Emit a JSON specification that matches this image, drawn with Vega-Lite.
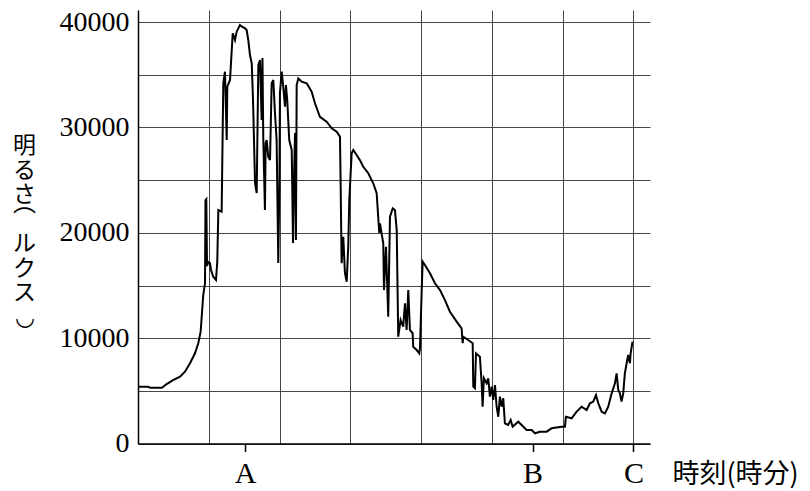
{
  "$schema": "https://vega.github.io/schema/vega-lite/v6.json",
  "autosize": "none",
  "padding": {"left": 138, "top": 10, "right": 160, "bottom": 47},
  "width": 512,
  "height": 433.6,
  "background": "white",
  "config": {"view": {"stroke": null}},
  "data": {"values": [
    {"t":0,"lux":5400},{"t":8.5,"lux":5400},{"t":10.2,"lux":5300},{"t":20.3,"lux":5300},{"t":24.3,"lux":5650},{"t":29.7,"lux":6030},{"t":35.6,"lux":6350},{"t":39.8,"lux":6820},{"t":44.1,"lux":7620},{"t":48.3,"lux":8570},{"t":51.1,"lux":9520},{"t":53.1,"lux":10620},{"t":54.0,"lux":12040},{"t":55.3,"lux":14100},{"t":56.8,"lux":15210},{"t":57.2,"lux":23110},{"t":57.9,"lux":23200},{"t":58.5,"lux":16850},{"t":59.6,"lux":17230},{"t":61.0,"lux":17130},{"t":61.9,"lux":16470},{"t":63.8,"lux":15830},{"t":66.1,"lux":15520},{"t":67.2,"lux":17260},{"t":68.1,"lux":22160},{"t":70.9,"lux":22000},{"t":72.3,"lux":34180},{"t":73.7,"lux":35290},{"t":75.2,"lux":28800},{"t":75.7,"lux":33860},{"t":78.0,"lux":34500},{"t":78.8,"lux":36080},{"t":80.3,"lux":38930},{"t":82.2,"lux":38290},{"t":83.6,"lux":39080},{"t":86.4,"lux":39710},{"t":88.6,"lux":39530},{"t":90.7,"lux":39400},{"t":92.1,"lux":39240},{"t":93.5,"lux":38290},{"t":94.9,"lux":36870},{"t":96.4,"lux":36080},{"t":97.5,"lux":32600},{"t":99.2,"lux":24720},{"t":100.6,"lux":23770},{"t":102.0,"lux":35920},{"t":103.4,"lux":36390},{"t":104.8,"lux":30700},{"t":105.5,"lux":36590},{"t":106.2,"lux":28980},{"t":107.6,"lux":22160},{"t":108.2,"lux":28500},{"t":109.1,"lux":28800},{"t":110.4,"lux":27220},{"t":111.9,"lux":26900},{"t":113.3,"lux":34180},{"t":114.7,"lux":34500},{"t":116.1,"lux":31360},{"t":117.5,"lux":28800},{"t":118.2,"lux":23110},{"t":118.9,"lux":17130},{"t":119.9,"lux":25000},{"t":120.3,"lux":33250},{"t":121.8,"lux":35290},{"t":123.1,"lux":33860},{"t":124.6,"lux":31960},{"t":125.4,"lux":34020},{"t":126.5,"lux":32600},{"t":128.2,"lux":28800},{"t":130.3,"lux":27860},{"t":131.4,"lux":19030},{"t":132.2,"lux":25000},{"t":133.1,"lux":29460},{"t":133.9,"lux":19320},{"t":134.5,"lux":34020},{"t":135.9,"lux":34650},{"t":138.7,"lux":34340},{"t":143.0,"lux":34180},{"t":147.2,"lux":33390},{"t":150.0,"lux":32290},{"t":154.2,"lux":31010},{"t":159.9,"lux":30540},{"t":164.2,"lux":29910},{"t":168.4,"lux":29590},{"t":171.2,"lux":29120},{"t":171.8,"lux":24370},{"t":172.6,"lux":17110},{"t":174.0,"lux":19630},{"t":175.4,"lux":16190},{"t":176.9,"lux":15360},{"t":178.2,"lux":18680},{"t":179.1,"lux":23110},{"t":181.1,"lux":27540},{"t":182.5,"lux":27860},{"t":185.3,"lux":27380},{"t":188.1,"lux":26900},{"t":190.9,"lux":26270},{"t":195.2,"lux":25650},{"t":199.4,"lux":24700},{"t":202.3,"lux":23750},{"t":204.5,"lux":19980},{"t":205.1,"lux":20900},{"t":207.9,"lux":19000},{"t":208.5,"lux":14570},{"t":210.2,"lux":18680},{"t":212.1,"lux":12040},{"t":213.6,"lux":21530},{"t":215.9,"lux":22320},{"t":217.8,"lux":22160},{"t":219.3,"lux":20270},{"t":220.6,"lux":10140},{"t":222.6,"lux":11730},{"t":224.8,"lux":11090},{"t":226.3,"lux":13310},{"t":227.7,"lux":10780},{"t":229.1,"lux":14570},{"t":230.5,"lux":10780},{"t":232.8,"lux":10470},{"t":233.3,"lux":9190},{"t":236.2,"lux":8880},{"t":238.4,"lux":8570},{"t":239.0,"lux":9040},{"t":240.4,"lux":14260},{"t":241.3,"lux":17260},{"t":243.2,"lux":16950},{"t":247.5,"lux":16160},{"t":251.7,"lux":15210},{"t":256.0,"lux":14570},{"t":260.2,"lux":13620},{"t":264.4,"lux":12510},{"t":270.1,"lux":11570},{"t":274.3,"lux":10940},{"t":275.2,"lux":9520},{"t":275.7,"lux":10140},{"t":279.9,"lux":9830},{"t":283.7,"lux":9520},{"t":284.2,"lux":5400},{"t":285.6,"lux":5250},{"t":286.5,"lux":8570},{"t":289.8,"lux":8250},{"t":291.3,"lux":5720},{"t":292.1,"lux":3500},{"t":293.2,"lux":6200},{"t":295.5,"lux":5720},{"t":296.9,"lux":6200},{"t":298.3,"lux":4450},{"t":299.8,"lux":5400},{"t":301.1,"lux":4140},{"t":302.6,"lux":5560},{"t":304.0,"lux":3500},{"t":305.4,"lux":2550},{"t":306.8,"lux":4450},{"t":308.2,"lux":3500},{"t":309.6,"lux":4300},{"t":311.0,"lux":1930},{"t":313.8,"lux":1770},{"t":315.9,"lux":2240},{"t":317.6,"lux":1600},{"t":322.3,"lux":2080},{"t":325.2,"lux":1770},{"t":329.4,"lux":1290},{"t":333.7,"lux":1290},{"t":336.5,"lux":980},{"t":340.7,"lux":1130},{"t":346.4,"lux":1130},{"t":350.6,"lux":1450},{"t":359.1,"lux":1600},{"t":361.9,"lux":1600},{"t":362.7,"lux":2550},{"t":367.6,"lux":2400},{"t":371.8,"lux":3030},{"t":376.0,"lux":3500},{"t":380.3,"lux":3190},{"t":383.1,"lux":3820},{"t":385.9,"lux":3980},{"t":388.2,"lux":4610},{"t":390.2,"lux":3820},{"t":393.0,"lux":3030},{"t":395.8,"lux":2870},{"t":398.6,"lux":3500},{"t":401.5,"lux":4770},{"t":404.3,"lux":5720},{"t":405.7,"lux":6670},{"t":407.1,"lux":5090},{"t":408.5,"lux":4770},{"t":409.9,"lux":3980},{"t":411.3,"lux":4770},{"t":412.7,"lux":6670},{"t":414.2,"lux":7620},{"t":415.5,"lux":8410},{"t":417.0,"lux":7620},{"t":417.6,"lux":8570},{"t":419.2,"lux":9670}
  ]},
  "mark": {"type": "line", "color": "black", "strokeWidth": 2},
  "encoding": {
    "x": {
      "field": "t", "type": "quantitative",
      "scale": {"domain": [0, 434], "nice": false, "zero": false},
      "axis": {
        "values": [60, 90.7, 120, 180, 240, 300, 334.5, 360, 420],
        "grid": true, "gridColor": "#444", "gridWidth": 1,
        "gridOpacity": {"condition": {"test": "datum.value == 90.7 || datum.value == 334.5", "value": 0}, "value": 1},
        "ticks": true, "tickSize": 8, "tickColor": "black", "tickWidth": 1.5,
        "tickOpacity": {"condition": {"test": "datum.value == 90.7 || datum.value == 334.5 || datum.value == 420", "value": 1}, "value": 0},
        "labelExpr": "datum.value == 90.7 ? 'A' : datum.value == 334.5 ? 'B' : datum.value == 420 ? 'C' : ''",
        "labelFont": "Liberation Serif", "labelFontSize": 30, "labelColor": "black",
        "labelBaseline": "alphabetic", "labelPadding": 31, "labelFlush": false, "labelOverlap": false, "labelBound": false,
        "domainColor": "black", "domainWidth": 1.5,
        "title": "時刻(時分)", "titleFont": "Noto Sans CJK JP", "titleFontSize": 27, "titleFontWeight": "normal",
        "titleColor": "black", "titleX": 534, "titleY": 38.5, "titleAlign": "left", "titleBaseline": "alphabetic"
      }
    },
    "y": {
      "field": "lux", "type": "quantitative",
      "scale": {"domain": [0, 41140], "nice": false},
      "axis": {
        "values": [0, 5000, 10000, 15000, 20000, 25000, 30000, 35000, 40000],
        "format": "d",
        "grid": true, "gridColor": "#444", "gridWidth": 1,
        "ticks": false,
        "labelExpr": "datum.value % 10000 == 0 ? datum.label : ''",
        "labelFont": "Liberation Serif", "labelFontSize": 28, "labelColor": "black", "labelPadding": 9,
        "labelFlush": false, "labelOverlap": false, "labelBaseline": "middle",
        "domainColor": "black", "domainWidth": 1.5,
        "title": ["明", "る", "さ", "⌒", "ル", "ク", "ス", "◡"],
        "titleAngle": 0, "titleFont": "Noto Sans CJK JP", "titleFontSize": 23, "titleLineHeight": 24.5,
        "titleFontWeight": "normal", "titleColor": "black",
        "titleX": -114, "titleY": 125, "titleAlign": "center", "titleBaseline": "top"
      }
    }
  }
}
